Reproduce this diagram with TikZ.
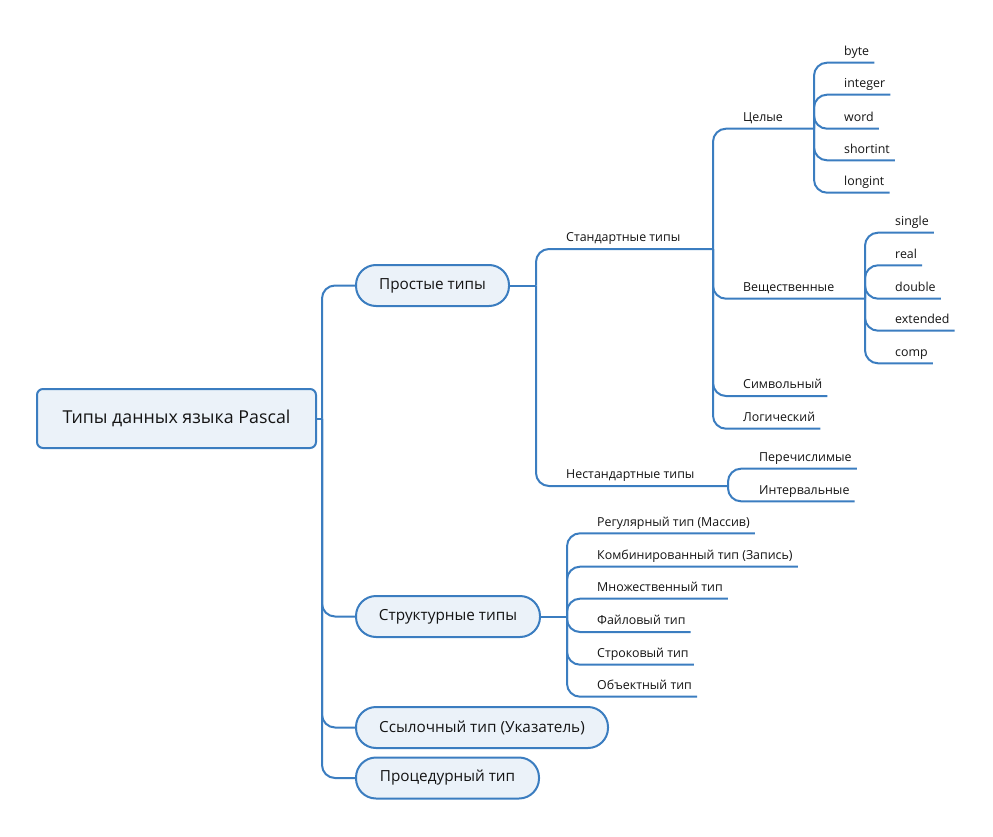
\documentclass[tikz,border=0pt]{standalone}
\usepackage{fontspec}
\setmainfont{Open Sans}
\definecolor{linkblue}{HTML}{3B7DC0}
\definecolor{topicfill}{HTML}{EBF2F9}

\begin{document}
\begin{tikzpicture}[x=1pt, y=-1pt, text=black!92,
    link/.style={draw=linkblue, line width=2pt, rounded corners=13pt},
    topic/.style={draw=linkblue, line width=2pt, fill=topicfill, rounded corners=20pt,
                  minimum height=41pt, inner sep=0pt, font=\fontsize{15.3}{18}\selectfont},
    leaf/.style={anchor=south west, inner xsep=0pt, inner ysep=7pt, text depth=0pt,
                 font=\fontsize{12.4}{14}\selectfont}]
    \useasboundingbox (0,0) rectangle (993,837);
    % root and main topics
    \node[draw=linkblue, line width=2pt, fill=topicfill, rounded corners=6pt,
          minimum width=279pt, minimum height=59pt, font=\fontsize{17.8}{21}\selectfont]
          (root) at (176.5,418.5) {Типы данных языка Pascal};
    \node[topic, minimum width=153pt] (simple) at (432.5,285.5) {Простые типы};
    \node[topic, minimum width=184pt] (struct) at (448,616.5) {Структурные типы};
    \node[topic, minimum width=252pt] (ref) at (482,727.5) {Ссылочный тип (Указатель)};
    \node[topic, minimum width=183pt] (proc) at (447.5,778) {Процедурный тип};
    \coordinate (trunk) at (322,418.5);
    \draw[link] (root.east) -- (trunk);
    \foreach \n in {simple, struct, ref, proc}
      \draw[link] (trunk) |- (\n.west);

    % simple types
    \coordinate (b1) at (536,285.5);
    \draw[link] (simple.east) -- (b1);
    \node[leaf] (std) at (566,249) {Стандартные типы};
    \node[leaf] (nonstd) at (566,486) {Нестандартные типы};
    \coordinate (b3) at (713,249);
    \coordinate (b4) at (728,486);
    \draw[link] (b1) |- (std.south west) -- (b3);
    \draw[link] (b1) |- (nonstd.south west) -- (b4);

    % standard types
    \node[leaf] (int) at (743,128.7) {Целые};
    \node[leaf] (float) at (743,298.7) {Вещественные};
    \node[leaf] (char) at (743,396) {Символьный};
    \node[leaf] (bool) at (743,428.7) {Логический};
    \coordinate (b5) at (814,128.7);
    \coordinate (b6) at (865,298.7);
    \draw[link] (b3) |- (int.south west) -- (b5);
    \draw[link] (b3) |- (float.south west) -- (b6);
    \foreach \n in {char, bool}
      \draw[link] (b3) |- (\n.south west) -- ([xshift=5pt]\n.south east);

    % integer types
    \foreach \n/\y in {byte/62.7, integer/94.7, word/128.7, shortint/160.3, longint/192.7} {
      \node[leaf] (\n) at (844,\y) {\n};
      \draw[link] (b5) |- (\n.south west) -- ([xshift=5pt]\n.south east);
    }
    % real types
    \foreach \n/\y in {single/232.7, real/265.3, double/298.7, extended/330.7, comp/363.3} {
      \node[leaf] (\n) at (895,\y) {\n};
      \draw[link] (b6) |- (\n.south west) -- ([xshift=5pt]\n.south east);
    }

    % non-standard types
    \node[leaf] (enum) at (759,468.7) {Перечислимые};
    \node[leaf] (range) at (759,501.3) {Интервальные};
    \foreach \n in {enum, range}
      \draw[link] (b4) |- (\n.south west) -- ([xshift=5pt]\n.south east);

    % structured types
    \coordinate (b2) at (567,616.5);
    \draw[link] (struct.east) -- (b2);
    \foreach \n/\t/\y in {arr/Регулярный тип (Массив)/533.3,
                          rec/Комбинированный тип (Запись)/566.7,
                          set/Множественный тип/598.7,
                          file/Файловый тип/632,
                          str/Строковый тип/664.7,
                          obj/Объектный тип/696.7} {
      \node[leaf] (\n) at (597,\y) {\t};
      \draw[link] (b2) |- (\n.south west) -- ([xshift=5pt]\n.south east);
    }
\end{tikzpicture}
\end{document}
